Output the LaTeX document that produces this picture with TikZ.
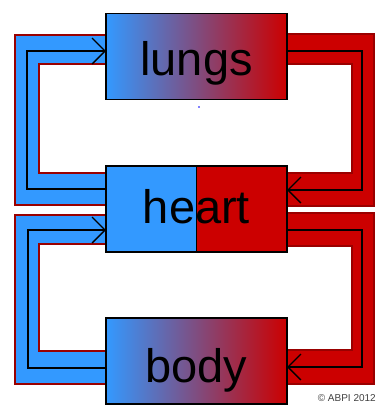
\documentclass[tikz,border=0pt]{standalone}
\usepackage{fontspec}
\setmainfont{Liberation Sans}
\usetikzlibrary{arrows.meta}
\definecolor{bblue}{HTML}{3399FF}
\definecolor{rred}{HTML}{CC0000}
\definecolor{dred}{HTML}{9A0000}
\tikzset{
  organ/.style={draw=black, line width=1.3pt, minimum width=181pt, minimum height=86pt, inner sep=0pt, outer sep=0pt},
  organtext/.style={font=\fontsize{47}{47}\selectfont, anchor=base, inner sep=0pt, text=black},
  pipeedge/.style={draw=dred, line width=2pt, line join=miter},
  flow/.style={draw=black, line width=1.4pt, line join=miter, -{Straight Barb[length=13pt,width=26pt,line width=1.4pt]}}
}
\begin{document}
\begin{tikzpicture}[x=1pt,y=-1pt]
\useasboundingbox (0,0) rectangle (376,405);
% ---- pipes ----
% top-left (heart -> lungs), blue
\fill[bblue] (106,35) -- (15,35) -- (15,205) -- (106,205) -- (106,173) -- (39,173) -- (39,64) -- (106,64) -- cycle;
\draw[pipeedge] (106,35) -- (15,35) -- (15,205) -- (106,205);
\draw[pipeedge] (106,64) -- (39,64) -- (39,173) -- (106,173);
% bottom-left (body -> heart), blue
\fill[bblue] (106,215) -- (15,215) -- (15,384) -- (106,384) -- (106,351) -- (39,351) -- (39,244) -- (106,244) -- cycle;
\draw[pipeedge] (106,215) -- (15,215) -- (15,384) -- (106,384);
\draw[pipeedge] (106,244) -- (39,244) -- (39,351) -- (106,351);
% top-right (lungs -> heart), red
\fill[rred] (287,34) -- (374,34) -- (374,206) -- (287,206) -- (287,173) -- (352,173) -- (352,64) -- (287,64) -- cycle;
\draw[pipeedge] (287,34) -- (374,34) -- (374,206) -- (287,206);
\draw[pipeedge] (287,64) -- (352,64) -- (352,173) -- (287,173);
% bottom-right (heart -> body), red
\fill[rred] (287,213) -- (374,213) -- (374,384) -- (287,384) -- (287,350) -- (352,350) -- (352,246) -- (287,246) -- cycle;
\draw[pipeedge] (287,213) -- (374,213) -- (374,384) -- (287,384);
\draw[pipeedge] (287,246) -- (352,246) -- (352,350) -- (287,350);
% ---- organs ----
\node[organ, left color=bblue, right color=rred, shading angle=90] (lungs) at (196.5,56.5) {};
\node[organ, fill=bblue, minimum width=90.5pt, anchor=east, draw=none] (heartL) at (196.5,209) {};
\node[organ, fill=rred, minimum width=90.5pt, anchor=west, draw=none] (heartR) at (196.5,209) {};
\node[organ, fill=none] (heart) at (196.5,209) {};
\draw[black, line width=0.8pt] (heartL.north east) -- (heartL.south east);
\node[organ, left color=bblue, right color=rred, shading angle=90] (body) at (196.5,361) {};
\node[organtext] (lungsT) at (196.5,75) {lungs};
\node[organtext] (heartT) at (196.5,223) {heart};
\node[organtext] (bodyT) at (196.5,382) {body};
% ---- flow lines ----
\draw[flow] (heart.west |- 0,189) -| (27,51) -- (lungs.west |- 0,51);
\draw[flow] (body.west |- 0,368) -| (28,230) -- (heart.west |- 0,230);
\draw[flow] (lungs.east |- 0,51) -| (362,190) -- (heart.east |- 0,190);
\draw[flow] (heart.east |- 0,230) -| (362,367) -- (body.east |- 0,367);
% ---- small marks ----
\fill[blue] (199,107) circle (0.8pt);
\node[anchor=east, inner sep=0pt, font=\fontsize{10}{10}\selectfont, text=black!75] (copy) at (376,398) {\textcopyright\ ABPI 2012};
\end{tikzpicture}
\end{document}
